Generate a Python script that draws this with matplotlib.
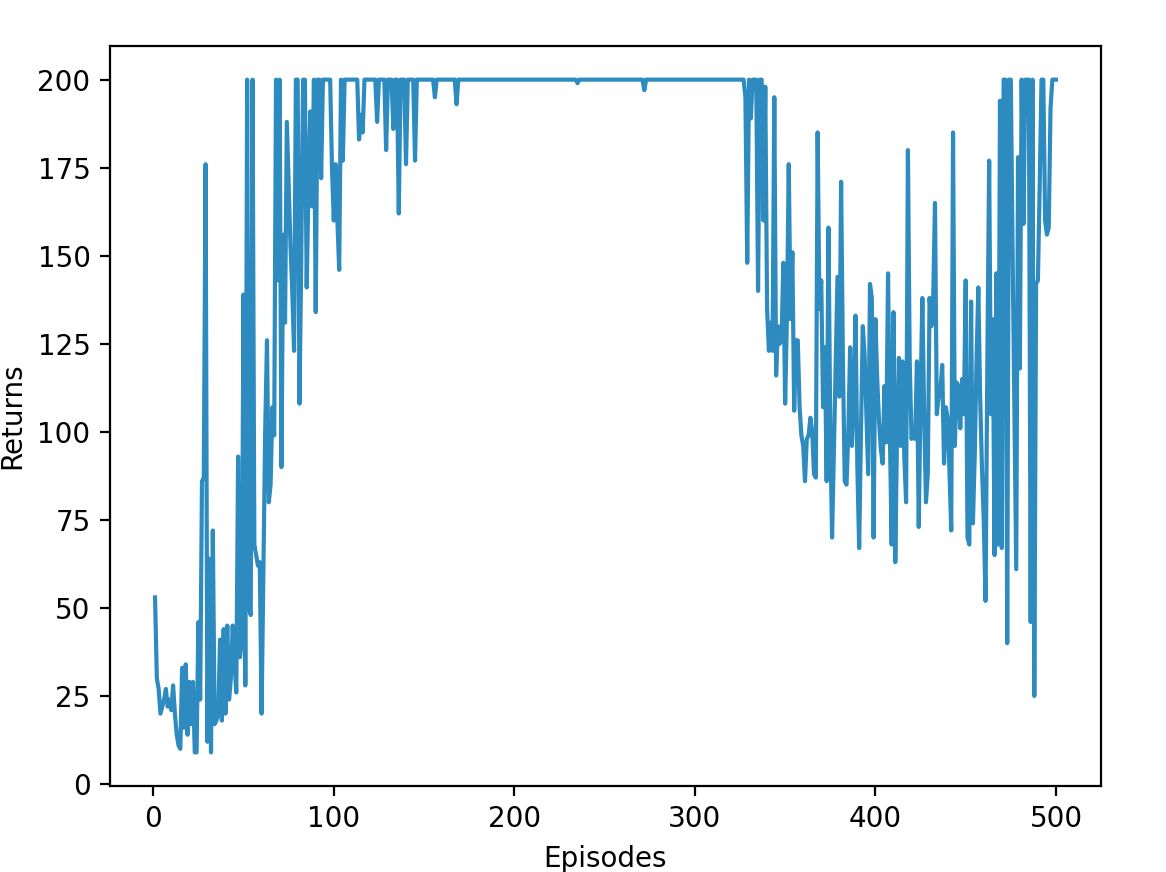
import numpy as np
import matplotlib
matplotlib.use("Agg")
import matplotlib.pyplot as plt

# returns per episode (episodes 1..500)
returns = [
    53, 30, 27, 20, 22, 24, 27, 22, 24, 21, 28, 20, 14, 11, 10, 33, 16, 34, 14, 29,
    17, 29, 9, 9, 46, 24, 86, 87, 176, 12, 64, 9, 72, 17, 18, 20, 41, 18, 44, 20,
    45, 24, 30, 45, 35, 26, 93, 36, 40, 139, 28, 200, 50, 48, 200, 68, 65, 62, 63, 20,
    60, 100, 126, 80, 85, 107, 99, 200, 143, 200, 90, 156, 131, 188, 170, 153, 140, 123, 200, 200,
    108, 150, 200, 200, 141, 170, 191, 164, 200, 134, 200, 200, 172, 200, 200, 200, 200, 200, 175, 160,
    176, 160, 146, 200, 177, 200, 200, 200, 200, 200, 200, 200, 200, 183, 190, 185, 200, 200, 200, 200,
    200, 200, 200, 188, 200, 200, 200, 200, 180, 200, 200, 200, 186, 200, 200, 162, 200, 200, 200, 176,
    200, 200, 200, 200, 177, 200, 200, 200, 200, 200, 200, 200, 200, 200, 200, 195, 200, 200, 200, 200,
    200, 200, 200, 200, 200, 200, 200, 193, 200, 200, 200, 200, 200, 200, 200, 200, 200, 200, 200, 200,
    200, 200, 200, 200, 200, 200, 200, 200, 200, 200, 200, 200, 200, 200, 200, 200, 200, 200, 200, 200,
    200, 200, 200, 200, 200, 200, 200, 200, 200, 200, 200, 200, 200, 200, 200, 200, 200, 200, 200, 200,
    200, 200, 200, 200, 200, 200, 200, 200, 200, 200, 200, 200, 200, 200, 199, 200, 200, 200, 200, 200,
    200, 200, 200, 200, 200, 200, 200, 200, 200, 200, 200, 200, 200, 200, 200, 200, 200, 200, 200, 200,
    200, 200, 200, 200, 200, 200, 200, 200, 200, 200, 200, 197, 200, 200, 200, 200, 200, 200, 200, 200,
    200, 200, 200, 200, 200, 200, 200, 200, 200, 200, 200, 200, 200, 200, 200, 200, 200, 200, 200, 200,
    200, 200, 200, 200, 200, 200, 200, 200, 200, 200, 200, 200, 200, 200, 200, 200, 200, 200, 200, 200,
    200, 200, 200, 200, 200, 200, 200, 195, 148, 200, 189, 200, 200, 200, 140, 200, 200, 160, 198, 135,
    123, 131, 123, 195, 116, 130, 125, 126, 148, 108, 133, 176, 132, 151, 106, 126, 126, 107, 99, 96,
    86, 98, 99, 104, 100, 88, 87, 185, 135, 143, 107, 124, 86, 158, 100, 70, 95, 120, 144, 110,
    171, 120, 86, 85, 100, 124, 96, 110, 133, 90, 67, 100, 130, 122, 105, 88, 142, 138, 70, 132,
    115, 103, 95, 91, 113, 97, 145, 100, 68, 134, 63, 100, 121, 96, 120, 93, 80, 180, 120, 98,
    100, 98, 120, 73, 110, 138, 105, 80, 88, 138, 130, 138, 165, 105, 110, 112, 119, 91, 107, 104,
    89, 72, 185, 96, 114, 113, 101, 115, 105, 143, 70, 68, 137, 74, 93, 120, 141, 110, 90, 75,
    52, 120, 177, 105, 132, 65, 145, 68, 194, 67, 200, 200, 40, 200, 200, 150, 105, 61, 178, 118,
    200, 159, 200, 200, 200, 46, 200, 25, 142, 143, 170, 200, 200, 160, 156, 158, 192, 200, 200, 200,
]
assert len(returns) == 500, len(returns)
episodes = np.arange(1, len(returns) + 1)

fig = plt.figure(figsize=(1166 / 200, 872 / 200), dpi=200)
ax = fig.add_axes([110 / 1166, 86 / 872, 991 / 1166, 740 / 872])
ax.plot(episodes, returns, color="#2e8bc0", linewidth=1.5)
ax.set_xlabel("Episodes")
ax.set_ylabel("Returns")

fig.savefig("out.png", dpi=200)
